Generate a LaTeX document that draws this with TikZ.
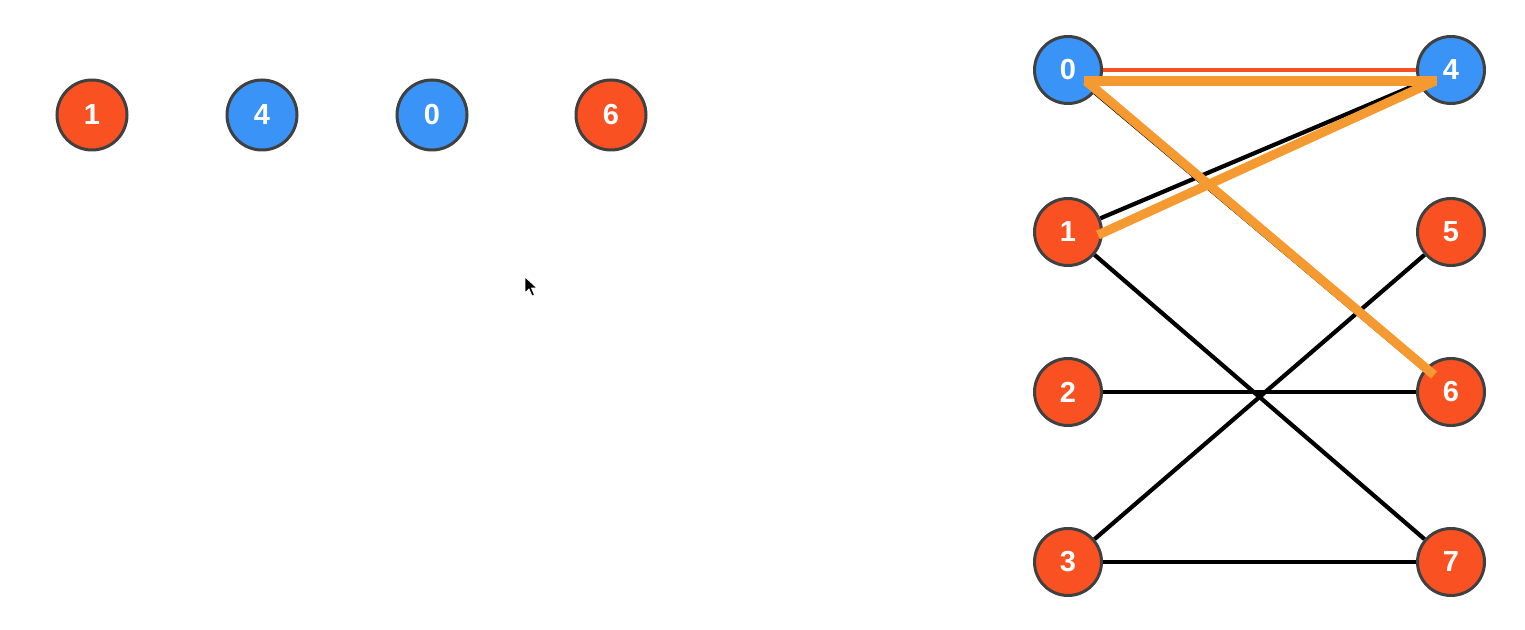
\documentclass[tikz,border=0pt]{standalone}
\usepackage{fontspec}
\setmainfont{Liberation Sans}
\usetikzlibrary{backgrounds,calc}
\definecolor{vred}{HTML}{FA5122}
\definecolor{vblue}{HTML}{3A93F7}
\definecolor{vring}{HTML}{404040}
\definecolor{vorange}{HTML}{F59A30}
\definecolor{ered}{HTML}{F4511E}
\tikzset{
  vtx/.style={circle, draw=vring, line width=1.5pt, text=white,
    font=\fontsize{14.5}{16}\selectfont\bfseries, inner sep=0pt},
  bigv/.style={vtx, minimum size=35pt},
  smallv/.style={vtx, minimum size=33.5pt},
  rv/.style={fill=vred},
  bv/.style={fill=vblue},
  edge/.style={black, line width=2.1pt},
  redge/.style={ered, line width=2pt},
  oedge/.style={vorange, line width=4.6pt},
}
\begin{document}
\begin{tikzpicture}[x=0.5pt,y=-0.5pt]
\useasboundingbox (0,0) rectangle (1525,630);
% left row
\node[bigv,rv] (l1) at (92,115) {1};
\node[bigv,bv] (l4) at (262,115) {4};
\node[bigv,bv] (l0) at (432,115) {0};
\node[bigv,rv] (l6) at (611,115) {6};
% right graph
\node[smallv,bv] (r0) at (1068,70) {0};
\node[smallv,bv] (r4) at (1451,70) {4};
\node[smallv,rv] (r1) at (1068,232) {1};
\node[smallv,rv] (r5) at (1451,232) {5};
\node[smallv,rv] (r2) at (1068,392) {2};
\node[smallv,rv] (r6) at (1451,392) {6};
\node[smallv,rv] (r3) at (1068,562) {3};
\node[smallv,rv] (r7) at (1451,562) {7};
\begin{pgfonlayer}{background}
\draw[redge] (r0) -- (r4);
\draw[edge] (r0) -- (r6);
\draw[edge] (r1) -- (r4);
\draw[edge] (r1) -- (r7);
\draw[edge] (r2) -- (r6);
\draw[edge] (r3) -- (r5);
\draw[edge] (r3) -- (r7);
\end{pgfonlayer}
% highlighted path (1 -> 4 -> 0 -> 6)
\coordinate (o1) at ($(r1.center)+(30,3)$);
\coordinate (o4) at ($(r4.center)+(-16,11)$);
\coordinate (o0) at ($(r0.center)+(18,11)$);
\coordinate (o6) at ($(r6.center)+(-17,-17)$);
\draw[oedge] (o1) -- (o4);
\draw[oedge] ($(o4)+(2,0)$) -- ($(o0)+(-2,0)$);
\draw[oedge] (o0) -- (o6);
% mouse cursor
\coordinate (cur) at (525,277);
\fill[black, draw=white, line width=0.4pt] (cur) -- ++(0,16) -- ++(4,-4) -- ++(3,7)
  -- ++(2.5,-1) -- ++(-3,-7) -- ++(5.5,0) -- cycle;
\end{tikzpicture}
\end{document}
